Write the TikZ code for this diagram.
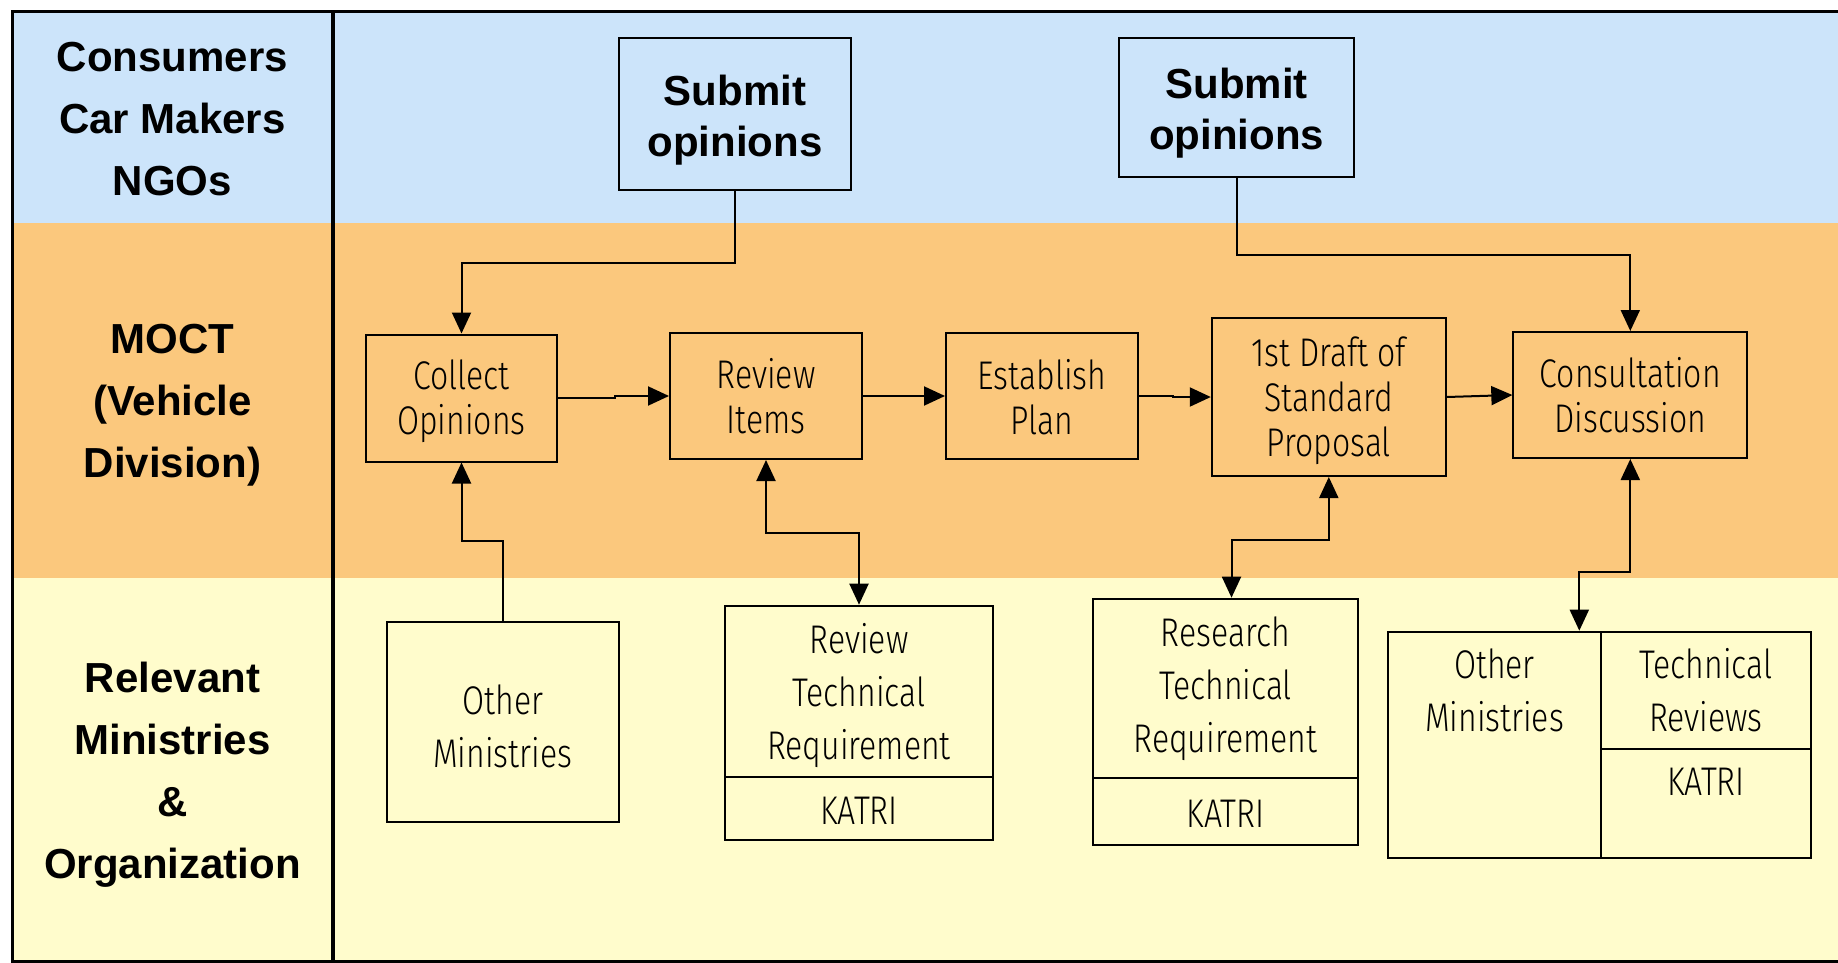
\documentclass[tikz,border=0pt]{standalone}
\usepackage{fontspec}
\setmainfont{Liberation Sans}
\newfontfamily\cond[FakeStretch=0.8]{Fira Sans Light}
\usetikzlibrary{arrows.meta}
\definecolor{bandblue}{RGB}{204,228,250}
\definecolor{bandorange}{RGB}{251,200,125}
\definecolor{bandyellow}{RGB}{255,252,204}
\begin{document}
\begin{tikzpicture}[x=1pt,y=-1pt,
  conn/.style={line width=2pt},
  arr/.style={-{Triangle[length=21pt,width=19pt]}},
  darr/.style={{Triangle[length=21pt,width=19pt]}-{Triangle[length=21pt,width=19pt]}},
  lab/.style={inner sep=0pt, align=center, font=\bfseries\fontsize{42}{62}\selectfont},
  subbox/.style={draw, line width=2pt, inner sep=0pt},
  subtext/.style={inner sep=0pt, align=center, yshift=-6pt, font=\bfseries\fontsize{42}{51}\selectfont},
  flowbox/.style={draw, line width=2pt, inner sep=0pt},
  flowtext/.style={inner sep=0pt, align=center, yshift=-3.5pt, font=\cond\fontsize{40}{45}\selectfont},
  cell/.style={draw, line width=2.6pt, inner sep=0pt},
  celltext/.style={inner sep=0pt, align=center, yshift=-3pt, font=\cond\fontsize{40}{53}\selectfont}
]
\useasboundingbox (0,0) rectangle (1838,963);
% bands
\fill[bandblue] (12,12) rectangle (1838,223);
\fill[bandorange] (12,223) rectangle (1838,578);
\fill[bandyellow] (12,578) rectangle (1838,961);
% frame
\draw[line width=3pt] (1838,12) -- (12,12) -- (12,961) -- (1838,961);
\draw[line width=4.5pt] (333,12) -- (333,961);
% lane labels
\node[lab] (g1) at (172.5,119) {Consumers\\Car Makers\\NGOs};
\node[lab] (g2) at (172.5,405) {MOCT\\(Vehicle\\Division)};
\node[lab] (g3) at (172.5,775) {Relevant\\Ministries\\\&\\Organization};
% submit boxes
\node[subbox, minimum width=232, minimum height=152] (sub1) at (735,114) {};
\node[subtext] (sub1t) at (sub1) {Submit\\opinions};
\node[subbox, minimum width=235, minimum height=139] (sub2) at (1236.5,107.5) {};
\node[subtext] (sub2t) at (sub2) {Submit\\opinions};
% flow boxes
\node[flowbox, minimum width=191, minimum height=127] (collect) at (461.5,398) {};
\node[flowtext] (collectt) at (collect) {Collect\\Opinions};
\node[flowbox, minimum width=192, minimum height=126] (review) at (766,396) {};
\node[flowtext] (reviewt) at ([yshift=3pt]review) {Review\\Items};
\node[flowbox, minimum width=192, minimum height=126] (establish) at (1042,396) {};
\node[flowtext] (establisht) at ([yshift=2.5pt]establish) {Establish\\Plan};
\node[flowbox, minimum width=234, minimum height=158] (draft) at (1328.8,397) {};
\node[flowtext] (draftt) at (draft) {1st Draft of\\Standard\\Proposal};
\node[flowbox, minimum width=234, minimum height=126] (consult) at (1630.3,395) {};
\node[flowtext] (consultt) at ([yshift=3pt]consult) {Consultation\\Discussion};
% bottom boxes
\node[cell, minimum width=232, minimum height=200] (om1) at (502.8,722) {};
\node[celltext] (om1t) at ([yshift=-1pt]om1) {Other\\Ministries};
\node[cell, minimum width=268, minimum height=171] (rtr) at (859,691.5) {};
\node[celltext] (rtrt) at ([yshift=-1pt]rtr) {Review\\Technical\\Requirement};
\node[cell, minimum width=268, minimum height=63] (rtrk) at (859,808.5) {};
\node[celltext] (rtrkt) at ([yshift=1pt]rtrk) {KATRI};
\node[cell, minimum width=265, minimum height=179] (res) at (1225.5,688.5) {};
\node[celltext] (rest) at ([yshift=3pt]res) {Research\\Technical\\Requirement};
\node[cell, minimum width=265, minimum height=67] (resk) at (1225.5,811.5) {};
\node[celltext] (reskt) at ([yshift=1pt]resk) {KATRI};
\node[cell, minimum width=213, minimum height=226] (lastL) at (1494.5,745) {};
\node[cell, minimum width=210, minimum height=117] (lastR) at (1706,690.5) {};
\node[celltext] (lastRt) at ([yshift=3pt]lastR) {Technical\\Reviews};
\node[cell, minimum width=210, minimum height=109] (lastK) at (1706,803.5) {};
\node[celltext] (lastLt) at (1494.5,687) {Other\\Ministries};
\node[celltext] (lastKt) at (1706,779) {KATRI};
% connectors
\draw[conn,arr] (sub1.south) -- ++(0,72) -| (collect.north);
\draw[conn,arr] (sub2.south) -- ++(0,77) -| (consult.north);
\draw[conn,arr] (collect.east) -- ++(57,0) |- (review.west);
\draw[conn,arr] (review.east) -- (establish.west);
\draw[conn,arr] (establish.east) -- ++(34,0) |- (draft.west);
\draw[conn,arr] (draft.east) -- (consult.west);
\draw[conn,arr] (om1.north) -- ++(0,-80) -| (collect.south);
\draw[conn,darr] (review.south) -- ++(0,73) -| (rtr.north);
\draw[conn,darr] (draft.south) -- ++(0,63) -| ([xshift=6pt]res.north);
\draw[conn,darr] (consult.south) -- ++(0,113) -| ([xshift=-23pt]lastL.north east);
\end{tikzpicture}
\end{document}
